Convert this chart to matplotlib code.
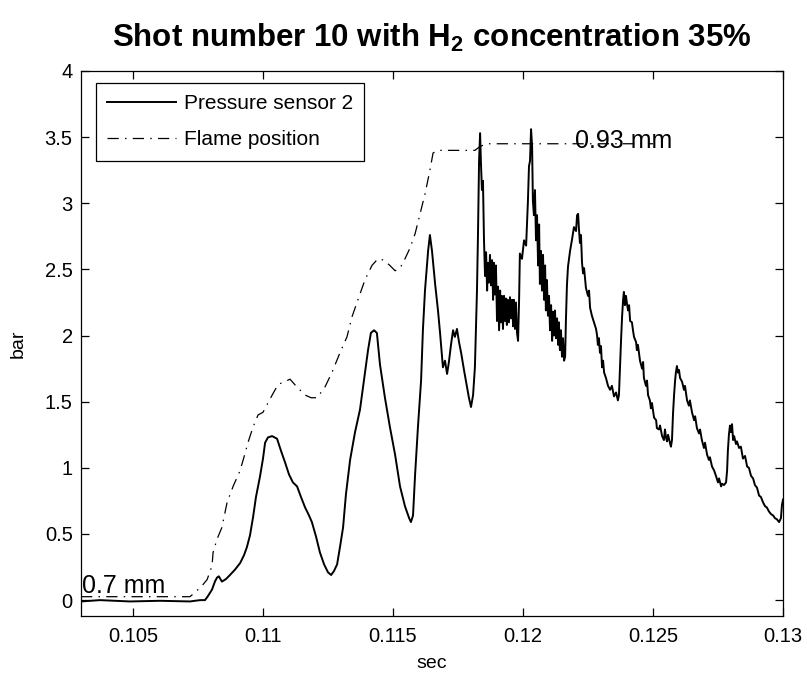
import matplotlib
matplotlib.use("Agg")
import matplotlib.pyplot as plt

# ---------------- data ----------------
press_time = [
    0.10300, 0.10373, 0.10488, 0.10604, 0.10719, 0.10758, 0.10777, 0.10788, 0.10804, 0.10815,
    0.10823, 0.10830, 0.10842, 0.10858, 0.10873, 0.10892, 0.10912, 0.10927, 0.10938, 0.10950,
    0.10962, 0.10973, 0.10988, 0.11000, 0.11008, 0.11019, 0.11035, 0.11054, 0.11069, 0.11085,
    0.11100, 0.11115, 0.11131, 0.11146, 0.11162, 0.11177, 0.11188, 0.11204, 0.11219, 0.11235,
    0.11250, 0.11262, 0.11273, 0.11285, 0.11296, 0.11308, 0.11319, 0.11335, 0.11354, 0.11373,
    0.11388, 0.11404, 0.11415, 0.11427, 0.11438, 0.11450, 0.11469, 0.11488, 0.11508, 0.11527,
    0.11546, 0.11562, 0.11569, 0.11577, 0.11585, 0.11596, 0.11608, 0.11615, 0.11623, 0.11635,
    0.11642, 0.11650, 0.11662, 0.11673, 0.11681, 0.11688, 0.11692, 0.11700, 0.11708, 0.11715,
    0.11723, 0.11731, 0.11738, 0.11746, 0.11754, 0.11762, 0.11773, 0.11785, 0.11792, 0.11800,
    0.11808, 0.11815, 0.11823, 0.11827, 0.11831, 0.11835, 0.11838, 0.11842, 0.11846, 0.11850,
    0.11854, 0.11858, 0.11862, 0.11865, 0.11869, 0.11873, 0.11877, 0.11881, 0.11885, 0.11888,
    0.11892, 0.11896, 0.11900, 0.11904, 0.11908, 0.11912, 0.11915, 0.11919, 0.11923, 0.11927,
    0.11931, 0.11935, 0.11938, 0.11942, 0.11946, 0.11950, 0.11954, 0.11958, 0.11962, 0.11965,
    0.11969, 0.11973, 0.11977, 0.11981, 0.11985, 0.11988, 0.11996, 0.12004, 0.12012, 0.12015,
    0.12019, 0.12023, 0.12027, 0.12031, 0.12035, 0.12038, 0.12042, 0.12046, 0.12050, 0.12054,
    0.12058, 0.12062, 0.12065, 0.12069, 0.12073, 0.12077, 0.12081, 0.12085, 0.12088, 0.12092,
    0.12096, 0.12100, 0.12104, 0.12108, 0.12112, 0.12115, 0.12119, 0.12123, 0.12127, 0.12131,
    0.12135, 0.12138, 0.12142, 0.12146, 0.12150, 0.12154, 0.12158, 0.12162, 0.12165, 0.12169,
    0.12173, 0.12181, 0.12188, 0.12196, 0.12204, 0.12208, 0.12212, 0.12215, 0.12219, 0.12223,
    0.12227, 0.12231, 0.12235, 0.12242, 0.12250, 0.12254, 0.12258, 0.12265, 0.12273, 0.12281,
    0.12285, 0.12288, 0.12292, 0.12296, 0.12300, 0.12304, 0.12308, 0.12312, 0.12319, 0.12327,
    0.12335, 0.12342, 0.12350, 0.12358, 0.12365, 0.12369, 0.12373, 0.12377, 0.12381, 0.12385,
    0.12388, 0.12392, 0.12396, 0.12400, 0.12404, 0.12408, 0.12412, 0.12419, 0.12423, 0.12427,
    0.12435, 0.12438, 0.12442, 0.12450, 0.12458, 0.12462, 0.12465, 0.12473, 0.12477, 0.12481,
    0.12488, 0.12492, 0.12496, 0.12504, 0.12512, 0.12515, 0.12523, 0.12527, 0.12535, 0.12542,
    0.12546, 0.12550, 0.12554, 0.12558, 0.12565, 0.12569, 0.12573, 0.12577, 0.12581, 0.12585,
    0.12588, 0.12592, 0.12596, 0.12600, 0.12604, 0.12612, 0.12619, 0.12623, 0.12631, 0.12638,
    0.12642, 0.12650, 0.12658, 0.12662, 0.12669, 0.12677, 0.12681, 0.12688, 0.12696, 0.12700,
    0.12708, 0.12715, 0.12719, 0.12727, 0.12735, 0.12742, 0.12750, 0.12754, 0.12762, 0.12765,
    0.12773, 0.12781, 0.12785, 0.12788, 0.12792, 0.12796, 0.12800, 0.12804, 0.12808, 0.12812,
    0.12819, 0.12823, 0.12831, 0.12838, 0.12846, 0.12854, 0.12862, 0.12869, 0.12877, 0.12885,
    0.12892, 0.12900, 0.12908, 0.12915, 0.12923, 0.12931, 0.12938, 0.12946, 0.12954, 0.12962,
    0.12969, 0.12977, 0.12985, 0.12992, 0.12996, 0.13000,
]
press_bar = [
    -0.01, 0.00, -0.01, -0.005, -0.01, 0.00, 0.00, 0.03, 0.08, 0.14,
    0.17, 0.18, 0.14, 0.16, 0.19, 0.23, 0.28, 0.34, 0.40, 0.49,
    0.63, 0.78, 0.93, 1.07, 1.19, 1.23, 1.24, 1.22, 1.13, 1.04,
    0.95, 0.89, 0.86, 0.78, 0.70, 0.64, 0.59, 0.48, 0.36, 0.27,
    0.21, 0.19, 0.22, 0.27, 0.40, 0.55, 0.80, 1.06, 1.27, 1.44,
    1.66, 1.89, 2.02, 2.04, 2.02, 1.78, 1.53, 1.31, 1.10, 0.86,
    0.71, 0.62, 0.59, 0.64, 0.95, 1.31, 1.66, 2.04, 2.34, 2.64,
    2.76, 2.64, 2.39, 2.19, 2.02, 1.85, 1.76, 1.81, 1.71, 1.80,
    1.93, 2.04, 1.99, 2.05, 1.95, 1.87, 1.74, 1.61, 1.53, 1.46,
    1.55, 1.76, 2.34, 2.78, 3.32, 3.53, 3.32, 3.10, 3.17, 2.72,
    2.45, 2.63, 2.34, 2.55, 2.40, 2.61, 2.38, 2.57, 2.27, 2.55,
    2.31, 2.53, 2.11, 2.37, 2.04, 2.34, 2.10, 2.30, 2.05, 2.30,
    2.11, 2.28, 2.08, 2.27, 2.10, 2.29, 2.13, 2.27, 2.07, 2.27,
    2.05, 2.25, 2.02, 1.96, 2.27, 2.62, 2.58, 2.72, 2.68, 2.82,
    3.02, 3.28, 3.32, 3.56, 3.43, 3.02, 2.91, 3.10, 2.72, 2.91,
    2.53, 2.84, 2.39, 2.64, 2.34, 2.61, 2.27, 2.53, 2.19, 2.42,
    2.15, 2.30, 2.04, 2.23, 1.96, 2.18, 2.00, 2.19, 1.98, 2.13,
    1.93, 2.10, 1.89, 2.04, 1.84, 1.98, 1.81, 1.84, 2.11, 2.38,
    2.52, 2.64, 2.72, 2.82, 2.79, 2.91, 2.92, 2.81, 2.70, 2.76,
    2.55, 2.47, 2.51, 2.36, 2.30, 2.34, 2.21, 2.15, 2.10, 2.05,
    2.00, 1.93, 1.98, 1.87, 1.92, 1.76, 1.81, 1.72, 1.68, 1.62,
    1.59, 1.62, 1.54, 1.57, 1.51, 1.55, 1.76, 1.96, 2.14, 2.27,
    2.33, 2.23, 2.30, 2.24, 2.19, 2.23, 2.11, 2.10, 2.04, 1.99,
    1.95, 1.89, 1.93, 1.81, 1.75, 1.80, 1.68, 1.62, 1.66, 1.55,
    1.51, 1.45, 1.49, 1.38, 1.36, 1.30, 1.29, 1.32, 1.24, 1.21,
    1.29, 1.23, 1.20, 1.25, 1.19, 1.16, 1.21, 1.41, 1.55, 1.66,
    1.72, 1.77, 1.72, 1.74, 1.68, 1.65, 1.59, 1.62, 1.51, 1.47,
    1.51, 1.42, 1.36, 1.39, 1.30, 1.26, 1.29, 1.21, 1.15, 1.19,
    1.10, 1.06, 1.08, 1.01, 0.98, 0.94, 0.89, 0.92, 0.86, 0.88,
    0.87, 0.89, 0.98, 1.13, 1.25, 1.32, 1.27, 1.33, 1.21, 1.24,
    1.18, 1.20, 1.15, 1.16, 1.07, 1.09, 1.01, 1.00, 0.94, 0.92,
    0.87, 0.85, 0.79, 0.78, 0.74, 0.71, 0.70, 0.67, 0.65, 0.64,
    0.62, 0.61, 0.59, 0.62, 0.72, 0.76,
]

flame_time = [
    0.10300, 0.10719, 0.10742, 0.10769, 0.10785, 0.10804, 0.10808, 0.10823, 0.10842, 0.10862,
    0.10885, 0.10912, 0.10931, 0.10942, 0.10962, 0.10981, 0.11000, 0.11019, 0.11038, 0.11058,
    0.11081, 0.11104, 0.11131, 0.11162, 0.11185, 0.11208, 0.11238, 0.11265, 0.11296, 0.11323,
    0.11342, 0.11365, 0.11392, 0.11419, 0.11442, 0.11465, 0.11488, 0.11508, 0.11527, 0.11546,
    0.11565, 0.11585, 0.11604, 0.11623, 0.11642, 0.11654, 0.11673, 0.11758, 0.11815, 0.11835,
    0.11862, 0.12142, 0.12500,
]
flame_pos = [
    0.026, 0.026, 0.064, 0.117, 0.155, 0.26, 0.36, 0.46, 0.55, 0.74,
    0.86, 0.98, 1.11, 1.19, 1.31, 1.40, 1.42, 1.49, 1.56, 1.63,
    1.65, 1.67, 1.61, 1.55, 1.53, 1.53, 1.61, 1.72, 1.87, 1.99,
    2.14, 2.27, 2.42, 2.53, 2.58, 2.57, 2.53, 2.49, 2.51, 2.58,
    2.66, 2.77, 2.92, 3.07, 3.25, 3.38, 3.40, 3.40, 3.40, 3.43,
    3.45, 3.45, 3.45,
]

series_labels = ["Pressure sensor 2", "Flame position"]
start_label = "0.7 mm"
end_label = "0.93 mm"
x_ticks = [0.105, 0.11, 0.115, 0.12, 0.125, 0.13]
x_tick_labels = ["0.105", "0.11", "0.115", "0.12", "0.125", "0.13"]
y_ticks = [0, 0.5, 1, 1.5, 2, 2.5, 3, 3.5, 4]
y_tick_labels = ["0", "0.5", "1", "1.5", "2", "2.5", "3", "3.5", "4"]

# ---------------- style ----------------
plt.rcParams["font.family"] = ["Liberation Sans", "DejaVu Sans"]
plt.rcParams["mathtext.fontset"] = "custom"
plt.rcParams["mathtext.rm"] = "Liberation Sans"
plt.rcParams["mathtext.bf"] = "Liberation Sans:bold"

W, H = 807, 675
fig = plt.figure(figsize=(W / 100, H / 100), dpi=100)
ax = fig.add_axes([81 / W, 1 - 616 / H, 702 / W, 545 / H])

ax.plot(press_time, press_bar, color="black", lw=1.4, label=series_labels[0])
ax.plot(flame_time, flame_pos, color="black", lw=0.9,
        linestyle=(0, (9, 5, 1.2, 5)), label=series_labels[1])

ax.text(flame_time[0] + 0.00005, flame_pos[0] + 0.03, start_label, fontsize=18,
        ha="left", va="baseline")
ax.text(0.1220, 3.42, end_label, fontsize=18, ha="left", va="baseline")

ax.set_xlim(0.103, 0.13)
ax.set_ylim(-0.12, 4)
ax.set_xticks(x_ticks)
ax.set_xticklabels(x_tick_labels)
ax.set_yticks(y_ticks)
ax.set_yticklabels(y_tick_labels)
ax.tick_params(direction="in", length=6, width=0.9, labelsize=14.5,
               top=True, right=True, color="black")
ax.tick_params(axis="x", pad=8)
ax.tick_params(axis="y", pad=6)
for s in ax.spines.values():
    s.set_linewidth(0.9)
    s.set_color("black")

ax.set_xlabel("sec", fontsize=14)
ax.xaxis.set_label_coords(0.5, -0.072)
ax.set_ylabel("bar", fontsize=14)
ax.yaxis.set_label_coords(-0.077, 0.5)

leg = ax.legend(loc="upper left", bbox_to_anchor=((96 - 81) / 702, (616 - 83) / 545),
                borderaxespad=0, fontsize=15, frameon=True, fancybox=False,
                framealpha=1, edgecolor="black", handlelength=3.3,
                handletextpad=0.35, labelspacing=0.8, borderpad=0.55)
leg.get_frame().set_linewidth(0.9)

fig.text((81 + 783) / 2 / W, 1 - 47 / H,
         r"Shot number 10 with $\mathbf{H_2}$ concentration 35%",
         fontsize=22.5, fontweight="bold", ha="center", va="baseline")

fig.savefig("out.png", dpi=100, facecolor="white")
